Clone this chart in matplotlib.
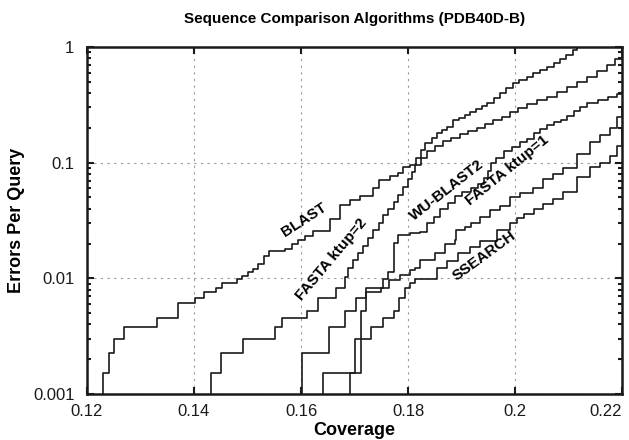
import numpy as np
import matplotlib
matplotlib.use("Agg")
import matplotlib.pyplot as plt
from matplotlib.ticker import FixedLocator, FixedFormatter, LogLocator, NullFormatter

plt.rcParams['font.family'] = ['Liberation Sans', 'DejaVu Sans']

# coverage where each step starts, errors per query after the step
blast_x = [0.1229, 0.1241, 0.1250, 0.1270, 0.1330, 0.1370, 0.1401, 0.1419, 0.1441, 0.1452,
           0.1480, 0.1490, 0.1501, 0.1510, 0.1520, 0.1531, 0.1541, 0.1570, 0.1583, 0.1595,
           0.1607, 0.1623, 0.1654, 0.1673, 0.1692, 0.1710, 0.1735, 0.1745, 0.1766, 0.1782,
           0.1791, 0.1804, 0.1815, 0.1825, 0.1832, 0.1845, 0.1855, 0.1864, 0.1873, 0.1884,
           0.1895, 0.1906, 0.1916, 0.1927, 0.1938, 0.1948, 0.1960, 0.1972, 0.1984, 0.1996,
           0.2008, 0.2022, 0.2034, 0.2047, 0.2060, 0.2072, 0.2084, 0.2096, 0.2108, 0.2116]
blast_y = [0.00151, 0.00226, 0.00299, 0.00376, 0.00454, 0.00612, 0.0068, 0.0076, 0.0083, 0.0091,
           0.0098, 0.0105, 0.0113, 0.0120, 0.0133, 0.0156, 0.0173, 0.0181, 0.0198, 0.0214,
           0.0232, 0.0258, 0.0325, 0.0431, 0.0475, 0.051, 0.060, 0.0708, 0.076, 0.081,
           0.092, 0.0955, 0.110, 0.128, 0.147, 0.164, 0.180, 0.192, 0.205, 0.234,
           0.245, 0.258, 0.272, 0.290, 0.310, 0.330, 0.360, 0.400, 0.440, 0.490,
           0.515, 0.550, 0.590, 0.630, 0.670, 0.720, 0.790, 0.860, 0.940, 1.05]

fasta2_x = [0.1431, 0.1451, 0.1491, 0.1551, 0.1564, 0.1611, 0.1632, 0.1666, 0.1682, 0.1688,
            0.1698, 0.1707, 0.1716, 0.1726, 0.1735, 0.1745, 0.1754, 0.1763, 0.1773, 0.1782,
            0.1791, 0.1800, 0.1807, 0.1813, 0.1825, 0.1836, 0.1850, 0.1865, 0.1880, 0.1897,
            0.1912, 0.1929, 0.1944, 0.1959, 0.1975, 0.1991, 0.2006, 0.2022, 0.2041, 0.2060,
            0.2078, 0.2097, 0.2116, 0.2135, 0.2153, 0.2172, 0.2186, 0.2200]
fasta2_y = [0.00151, 0.00226, 0.00299, 0.00376, 0.00454, 0.00525, 0.0068, 0.0082, 0.0103, 0.0122,
            0.0144, 0.0164, 0.0190, 0.0225, 0.0262, 0.0300, 0.0350, 0.0400, 0.0460, 0.0530,
            0.0620, 0.0720, 0.0830, 0.0955, 0.110, 0.125, 0.140, 0.155, 0.165, 0.178,
            0.188, 0.200, 0.215, 0.232, 0.250, 0.272, 0.295, 0.320, 0.345, 0.370,
            0.410, 0.450, 0.500, 0.550, 0.620, 0.700, 0.780, 0.860]

wu_x = [0.1601, 0.1652, 0.1682, 0.1702, 0.1722, 0.1753, 0.1763, 0.1773, 0.1782, 0.1804,
        0.1822, 0.1835, 0.1848, 0.1860, 0.1875, 0.1887, 0.1900, 0.1918, 0.1930, 0.1942,
        0.1950, 0.1955, 0.1965, 0.1980, 0.1995, 0.2010, 0.2022, 0.2035, 0.2047, 0.2060,
        0.2073, 0.2086, 0.2098, 0.2110, 0.2122, 0.2135, 0.2155, 0.2174, 0.2190, 0.2200]
wu_y = [0.00228, 0.00376, 0.00525, 0.0067, 0.0083, 0.0098, 0.0113, 0.0201, 0.0237, 0.0245,
        0.0253, 0.0300, 0.0340, 0.0400, 0.0450, 0.0520, 0.0560, 0.0600, 0.0660, 0.0730,
        0.0850, 0.1000, 0.1100, 0.1250, 0.1370, 0.1500, 0.1600, 0.1800, 0.1970, 0.2100,
        0.2250, 0.2340, 0.2550, 0.2800, 0.3050, 0.3300, 0.3500, 0.3700, 0.3900, 0.4100]

fasta1_x = [0.1641, 0.1713, 0.1722, 0.1750, 0.1765, 0.1785, 0.1804, 0.1813, 0.1822, 0.1850,
            0.1869, 0.1887, 0.1890, 0.1906, 0.1918, 0.1935, 0.1953, 0.1972, 0.1991, 0.2009,
            0.2034, 0.2052, 0.2071, 0.2090, 0.2116, 0.2140, 0.2159, 0.2178, 0.2191, 0.2200]
fasta1_y = [0.00151, 0.00525, 0.0076, 0.0083, 0.0097, 0.0107, 0.0118, 0.0123, 0.0144, 0.0164,
            0.0200, 0.0214, 0.0260, 0.0280, 0.0300, 0.0340, 0.0390, 0.0420, 0.0500, 0.0550,
            0.0600, 0.0720, 0.0800, 0.0900, 0.1200, 0.1500, 0.1750, 0.2000, 0.2500, 0.3000]

ssearch_x = [0.1691, 0.1701, 0.1731, 0.1753, 0.1773, 0.1784, 0.1795, 0.1804, 0.1813, 0.1854,
             0.1872, 0.1894, 0.1916, 0.1935, 0.1966, 0.1990, 0.2003, 0.2016, 0.2035, 0.2052,
             0.2071, 0.2090, 0.2116, 0.2140, 0.2159, 0.2178, 0.2191, 0.2200]
ssearch_y = [0.00151, 0.00299, 0.00376, 0.00454, 0.00525, 0.0067, 0.0082, 0.0091, 0.0099, 0.0123,
             0.0140, 0.0165, 0.0185, 0.0210, 0.0260, 0.0300, 0.0330, 0.0360, 0.0400, 0.0440,
             0.0490, 0.0560, 0.0750, 0.0920, 0.1000, 0.1150, 0.1400, 0.2000]

labels = ["BLAST", "FASTA ktup=2", "WU-BLAST2", "FASTA ktup=1", "SSEARCH"]
label_x = [0.1605, 0.1657, 0.1873, 0.1985, 0.1942]
label_y = [0.0320, 0.0145, 0.058, 0.085, 0.0155]
label_rot = [33, 50, 38, 39, 36]

xticks = [0.12, 0.14, 0.16, 0.18, 0.2, 0.22]
xtick_labels = ["0.12", "0.14", "0.16", "0.18", "0.2", "0.22"]
yticks = [0.001, 0.01, 0.1, 1]
ytick_labels = ["0.001", "0.01", "0.1", "1"]

fig = plt.figure(figsize=(6.29, 4.40), dpi=100)
ax = fig.add_axes([0.1383, 0.1045, 0.8506, 0.7887])

curves = [(blast_x, blast_y), (fasta2_x, fasta2_y), (wu_x, wu_y),
          (fasta1_x, fasta1_y), (ssearch_x, ssearch_y)]
for cx, cy in curves:
    xs = np.r_[cx[0], cx, 0.2215]
    ys = np.r_[1e-4, cy, cy[-1]]
    ax.plot(xs, ys, drawstyle='steps-post', color='#1a1a1a', lw=1.2)

for t, lx, ly, r in zip(labels, label_x, label_y, label_rot):
    ax.text(lx, ly, t, rotation=r, ha='center', va='center', fontsize=11,
            fontweight='bold', rotation_mode='anchor')

ax.set_yscale('log')
ax.set_xlim(0.12, 0.22)
ax.set_ylim(0.001, 1)
ax.xaxis.set_major_locator(FixedLocator(xticks))
ax.xaxis.set_major_formatter(FixedFormatter(xtick_labels))
ax.yaxis.set_major_locator(FixedLocator(yticks))
ax.yaxis.set_major_formatter(FixedFormatter(ytick_labels))
ax.yaxis.set_minor_locator(LogLocator(base=10, subs=np.arange(2, 10)))
ax.yaxis.set_minor_formatter(NullFormatter())

ax.grid(True, which='major', color='#999999', linestyle=(0, (2, 4)), lw=0.8)
ax.tick_params(which='both', direction='in', top=True, right=True, labelsize=12,
               colors='#1a1a1a', width=1.5)
ax.tick_params(which='major', length=5)
ax.tick_params(axis='x', which='major', pad=7)
ax.tick_params(axis='y', which='major', pad=9)
ax.tick_params(which='minor', length=3)
for s in ax.spines.values():
    s.set_linewidth(1.8)
    s.set_color('#1a1a1a')
# last x tick label sits inside the figure edge
ax.get_xticklabels()[-1].set_horizontalalignment('right')
ax.get_xticklabels()[-1].set_x(0.2215)

ax.set_title("Sequence Comparison Algorithms (PDB40D-B)", fontsize=11,
             fontweight='bold', pad=17)
ax.set_xlabel("Coverage", fontsize=13, fontweight='bold', labelpad=2)
ax.set_ylabel("Errors Per Query", fontsize=13, fontweight='bold', labelpad=6)

fig.savefig("out.png", dpi=100)
